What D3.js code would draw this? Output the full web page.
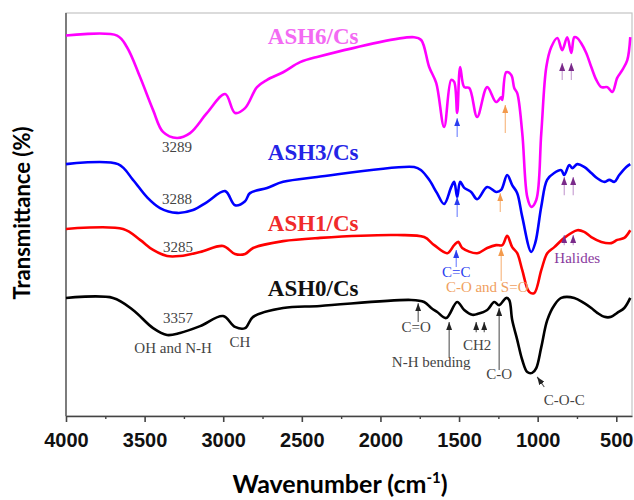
<!DOCTYPE html>
<html>
<head>
<meta charset="utf-8">
<script src="https://cdn.jsdelivr.net/npm/d3@7"></script>
<style>
  body { margin: 0; background: #fff; }
  svg { display: block; }
</style>
</head>
<body>
<div id="ftir-chart"></div>
<script>
// spectra: [wavenumber (cm-1), transmittance (offset, a.u.)]
const ash6 = [[4000, 94.4], [3675, 94.4], [3612, 91.5], [3529, 84.1], [3446, 75.9], [3383, 70.5], [3294, 69.0], [3211, 70.2], [3103, 75.2], [2988, 79.9], [2925, 75.2], [2861, 76.4], [2785, 81.6], [2721, 83.4], [2619, 85.3], [2511, 87.8], [2403, 89.1], [1786, 94.0], [1741, 93.3], [1690, 86.6], [1645, 82.6], [1595, 71.7], [1550, 83.4], [1531, 82.9], [1512, 75.2], [1493, 86.6], [1467, 81.6], [1435, 81.4], [1385, 74.2], [1321, 81.6], [1264, 77.9], [1232, 79.1], [1225, 78.4], [1200, 85.3], [1168, 84.6], [1149, 81.4], [1130, 80.1], [1098, 70.2], [1066, 54.3], [1041, 51.9], [1009, 53.6], [977, 70.2], [945, 86.6], [914, 91.5], [875, 93.8], [844, 90.8], [812, 94.0], [786, 90.1], [767, 94.0], [748, 93.8], [723, 92.5], [691, 90.1], [659, 86.6], [627, 83.4], [595, 81.6], [557, 81.6], [525, 80.4], [494, 83.9], [462, 85.8], [430, 88.3], [411, 94.0]]
const ash3 = [[4000, 62.5], [3669, 62.5], [3574, 58.6], [3485, 54.3], [3402, 51.6], [3294, 50.4], [3192, 51.1], [3103, 53.1], [2988, 55.8], [2925, 52.3], [2861, 53.3], [2830, 55.3], [2721, 56.6], [2619, 58.1], [2403, 59.3], [1786, 61.8], [1741, 61.0], [1690, 58.6], [1640, 55.3], [1595, 52.6], [1550, 56.8], [1531, 58.1], [1512, 54.3], [1493, 58.1], [1467, 56.6], [1423, 55.6], [1385, 53.8], [1321, 56.8], [1264, 55.6], [1232, 56.1], [1194, 59.8], [1162, 57.3], [1130, 55.3], [1098, 49.4], [1041, 40.7], [1015, 43.0], [977, 52.0], [940, 58.6], [895, 60.3], [850, 61.0], [831, 59.8], [799, 62.3], [780, 61.5], [748, 62.5], [704, 61.8], [659, 60.3], [621, 59.0], [576, 58.1], [544, 58.6], [512, 58.1], [481, 59.8], [436, 61.8], [411, 62.5]]
const ash1 = [[4000, 46.4], [3637, 46.4], [3529, 43.7], [3446, 41.2], [3357, 39.7], [3275, 39.7], [3147, 40.7], [3001, 42.2], [2925, 40.2], [2861, 40.2], [2810, 41.7], [2619, 43.4], [2384, 44.2], [1894, 44.9], [1722, 44.4], [1658, 42.4], [1575, 40.4], [1531, 42.4], [1505, 43.2], [1480, 41.7], [1385, 40.4], [1321, 41.7], [1264, 42.4], [1225, 42.4], [1194, 44.7], [1162, 41.9], [1130, 40.4], [1098, 36.2], [1054, 30.8], [1022, 30.5], [977, 36.2], [939, 40.4], [894, 41.9], [831, 44.2], [748, 46.1], [704, 45.7], [659, 44.4], [595, 43.2], [532, 42.9], [494, 43.7], [449, 44.2], [411, 46.1]]
const ash0 = [[4000, 29.3], [3701, 29.3], [3574, 26.3], [3446, 21.8], [3357, 20.1], [3275, 20.6], [3147, 22.3], [3001, 24.8], [2925, 22.1], [2861, 21.8], [2810, 24.6], [2619, 26.8], [2384, 27.3], [1805, 28.8], [1722, 28.3], [1677, 26.8], [1639, 25.8], [1582, 24.3], [1512, 28.3], [1467, 26.3], [1416, 25.1], [1385, 25.3], [1321, 26.3], [1276, 28.3], [1245, 27.5], [1200, 29.3], [1181, 28.8], [1162, 23.8], [1130, 18.9], [1098, 13.9], [1066, 10.9], [1035, 10.7], [1009, 11.9], [977, 17.1], [939, 23.8], [894, 27.5], [850, 29.3], [767, 29.3], [704, 28.0], [659, 26.8], [621, 25.6], [576, 24.6], [532, 24.6], [494, 25.6], [449, 26.8], [411, 29.3]]

const majorTicks = [4000, 3500, 3000, 2500, 2000, 1500, 1000, 500]
const minorTicks = [3750, 3250, 2750, 2250, 1750, 1250, 750]

const seriesNames = ['ASH6/Cs', 'ASH3/Cs', 'ASH1/Cs', 'ASH0/Cs']
const seriesLabelPos = [[2428, 92.3], [2428, 63.5], [2428, 45.9], [2428, 29.8]]

// [text, wavenumber, transmittance, group]
const bandLabels = [
  ['3289', 3294, 65.5, 'gray'],
  ['3288', 3294, 52.6, 'gray'],
  ['3285', 3287, 40.7, 'gray'],
  ['3357', 3287, 23.1, 'gray'],
  ['OH and N-H', 3319, 15.6, 'gray'],
  ['CH', 2893, 17.1, 'gray'],
  ['C=C', 1518, 34.5, 'blue'],
  ['C-O and S=O', 1321, 30.8, 'orange'],
  ['Halides', 748, 38.0, 'purple'],
  ['C=O', 1773, 20.8, 'gray'],
  ['N-H bending', 1677, 12.2, 'gray'],
  ['CH2', 1385, 16.4, 'gray'],
  ['C-O', 1245, 9.2, 'gray'],
  ['C-O-C', 831, 2.7, 'gray']
]

// [wavenumber from, T from, wavenumber to, T to, group]
const arrows = [
  [1512, 69.2, 1512, 73.9, 'blue'],
  [1206, 70.2, 1206, 77.2, 'orange'],
  [844, 83.4, 844, 87.6, 'purple'],
  [786, 83.4, 786, 87.6, 'purple'],
  [1512, 49.4, 1512, 54.3, 'blue'],
  [1238, 50.6, 1238, 55.3, 'orange'],
  [831, 54.8, 831, 59.3, 'purple'],
  [774, 54.8, 774, 59.3, 'purple'],
  [1518, 37.0, 1518, 41.2, 'blue'],
  [1232, 33.5, 1232, 41.7, 'orange'],
  [831, 42.4, 831, 44.9, 'purple'],
  [774, 42.4, 774, 44.9, 'purple'],
  [1760, 23.3, 1760, 28.0, 'gray'],
  [1563, 14.6, 1563, 23.3, 'gray'],
  [1391, 20.8, 1391, 23.3, 'gray'],
  [1340, 20.8, 1340, 23.3, 'gray'],
  [1245, 11.4, 1245, 26.8, 'gray'],
  [958, 7.2, 1003, 9.7, 'gray']
]

const lineColors = ['#ff00ff', '#0000ff', '#ff0000', '#000000']
const labelColors = ['#f36af3', '#2424e6', '#f02a2a', '#111111']
const groupColors = {
  gray: { text: '#444444', stem: '#555555', head: '#222222' },
  blue: { text: '#2a3cf0', stem: '#6f80ff', head: '#2a3cf0' },
  orange: { text: '#f0a060', stem: '#f7b47a', head: '#f39a4c' },
  purple: { text: '#8a3a9e', stem: '#c49ad0', head: '#7a2a8a' }
}

const width = 634
const height = 500
const margin = { top: 13, right: 2, bottom: 84, left: 66 }
const plotW = width - margin.left - margin.right
const plotH = height - margin.top - margin.bottom

/**
 * Generates the svg and its main group.
 */
function generateG () {
  return d3.select('div#ftir-chart')
    .append('svg')
    .attr('width', width)
    .attr('height', height)
    .append('g')
    .attr('transform', 'translate(' + margin.left + ',' + margin.top + ')')
}

/**
 * Draws the plot frame and bottom axis with major and minor ticks.
 */
function drawAxes (g, xScale) {
  g.append('rect')
    .attr('width', plotW)
    .attr('height', plotH)
    .attr('fill', 'none')
    .attr('stroke', '#c4c4c4')
    .attr('stroke-width', 1.2)

  g.append('line')
    .attr('x1', 0).attr('x2', 0)
    .attr('y1', 0).attr('y2', plotH)
    .attr('stroke', '#555')
    .attr('stroke-width', 1.4)

  const major = g.append('g')
    .attr('class', 'x axis')
    .attr('transform', 'translate(0,' + plotH + ')')
    .call(d3.axisBottom(xScale).tickValues(majorTicks).tickSize(6).tickSizeOuter(0).tickFormat(d3.format('d')))
  major.select('.domain').attr('stroke', '#444').attr('stroke-width', 1.6)
  major.selectAll('.tick line').attr('stroke', '#444').attr('stroke-width', 1.6)
  major.selectAll('.tick text')
    .attr('y', 31)
    .attr('dy', 0)
    .attr('fill', '#111')
    .style('font-family', '"Liberation Sans", Arial, sans-serif')
    .style('font-weight', 'bold')
    .style('font-size', '20px')

  const minor = g.append('g')
    .attr('transform', 'translate(0,' + plotH + ')')
    .call(d3.axisBottom(xScale).tickValues(minorTicks).tickSize(3).tickFormat(''))
  minor.select('.domain').remove()
  minor.selectAll('.tick line').attr('stroke', '#444').attr('stroke-width', 1.4)
}

/**
 * Adds the axis titles.
 */
function appendGraphLabels (g) {
  const xt = g.append('text')
    .attr('x', 274)
    .attr('y', 480)
    .attr('text-anchor', 'middle')
    .attr('fill', '#000')
    .style('font-family', 'Lato, "Open Sans", sans-serif')
    .style('font-weight', 'bold')
    .style('font-size', '25px')
  xt.append('tspan').text('Wavenumber (cm')
  xt.append('tspan').text('-1').attr('dy', -10).style('font-size', '15px')
  xt.append('tspan').text(')').attr('dy', 10)

  g.append('text')
    .text('Transmittance (%)')
    .attr('transform', 'translate(-36,' + 200 + ') rotate(-90)')
    .attr('text-anchor', 'middle')
    .attr('fill', '#000')
    .style('font-family', 'Lato, "Open Sans", sans-serif')
    .style('font-weight', 'bold')
    .style('font-size', '22px')
}

/**
 * Draws the four spectra and their names.
 */
function drawSpectra (g, xScale, yScale) {
  const line = d3.line()
    .x(d => xScale(d[0]))
    .y(d => yScale(d[1]))
    .curve(d3.curveCatmullRom.alpha(0.5))

  const spectra = [ash6, ash3, ash1, ash0]
  g.selectAll('.spectrum')
    .data(spectra).join('path')
    .classed('spectrum', true)
    .attr('d', line)
    .attr('fill', 'none')
    .attr('stroke', (d, i) => lineColors[i])
    .attr('stroke-width', 2.6)
    .attr('stroke-linejoin', 'round')

  g.selectAll('.series-name')
    .data(seriesNames).join('text')
    .classed('series-name', true)
    .text(d => d)
    .attr('x', (d, i) => xScale(seriesLabelPos[i][0]))
    .attr('y', (d, i) => yScale(seriesLabelPos[i][1]))
    .attr('text-anchor', 'middle')
    .attr('fill', (d, i) => labelColors[i])
    .style('font-family', '"Liberation Serif", "Times New Roman", serif')
    .style('font-weight', 'bold')
    .style('font-size', '23px')
}

/**
 * Draws the band annotations and their arrows.
 */
function drawAnnotations (g, xScale, yScale) {
  const defs = g.append('defs')
  Object.keys(groupColors).forEach(key => {
    defs.append('marker')
      .attr('id', 'head-' + key)
      .attr('markerUnits', 'userSpaceOnUse')
      .attr('viewBox', '0 0 8 6')
      .attr('markerWidth', 8)
      .attr('markerHeight', 6)
      .attr('refX', 8)
      .attr('refY', 3)
      .attr('orient', 'auto')
      .append('path')
      .attr('d', 'M0,0 L8,3 L0,6 Z')
      .attr('fill', groupColors[key].head)
  })

  g.selectAll('.band-arrow')
    .data(arrows).join('line')
    .classed('band-arrow', true)
    .attr('x1', d => xScale(d[0]))
    .attr('y1', d => yScale(d[1]))
    .attr('x2', d => xScale(d[2]))
    .attr('y2', d => yScale(d[3]))
    .attr('stroke', d => groupColors[d[4]].stem)
    .attr('stroke-width', 1.1)
    .attr('marker-end', d => 'url(#head-' + d[4] + ')')

  g.selectAll('.band-label')
    .data(bandLabels).join('text')
    .classed('band-label', true)
    .text(d => d[0])
    .attr('x', d => xScale(d[1]))
    .attr('y', d => yScale(d[2]))
    .attr('text-anchor', 'middle')
    .attr('fill', d => groupColors[d[3]].text)
    .style('font-family', '"Liberation Serif", "Times New Roman", serif')
    .style('font-size', '15px')
}

const g = generateG()
const xScale = d3.scaleLinear().domain([4000, 400]).range([0, plotW])
const yScale = d3.scaleLinear().domain([0, 100]).range([plotH, 0])

drawAxes(g, xScale)
drawSpectra(g, xScale, yScale)
drawAnnotations(g, xScale, yScale)
appendGraphLabels(g)
</script>
</body>
</html>
